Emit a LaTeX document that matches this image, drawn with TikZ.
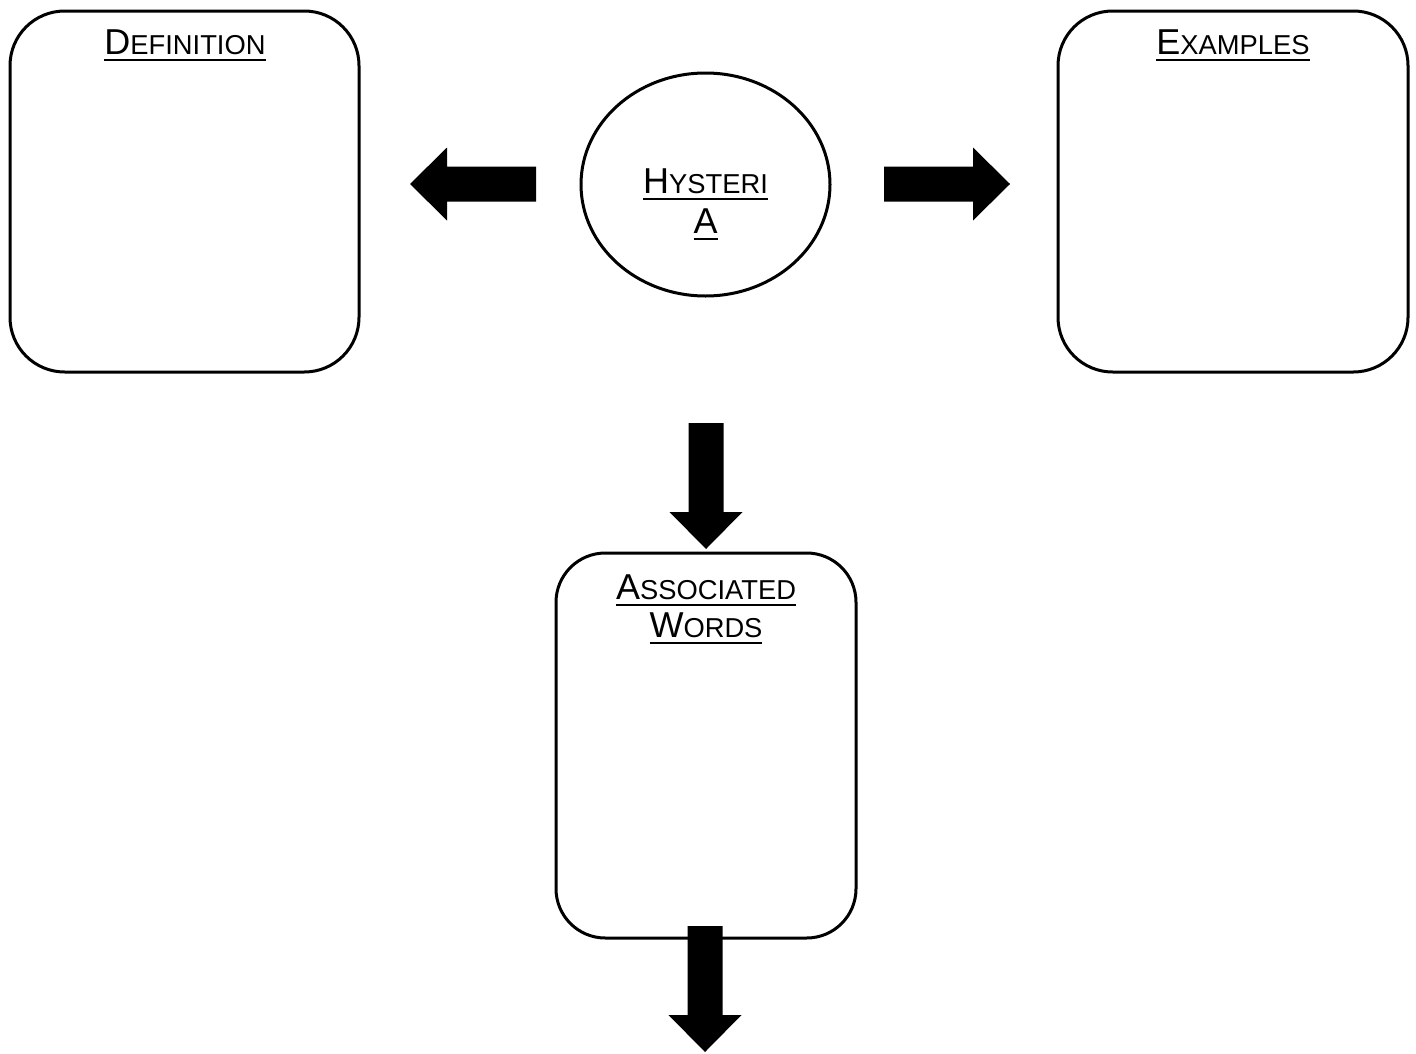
\documentclass[tikz,border=0pt]{standalone}
\usepackage{fontspec}
\setmainfont{Liberation Sans}
\usetikzlibrary{shapes.geometric, positioning}

% first letter big, rest small, whole word underlined
\newsavebox{\titlebox}
\newcommand{\bigsmall}[2]{\sbox{\titlebox}{#1{\fontsize{20.5}{24}\selectfont #2}}\rlap{\rule[-5pt]{\wd\titlebox}{1.5pt}}\usebox{\titlebox}}

\tikzset{
  panel/.style={draw, rounded corners=41pt, inner sep=0pt},
  title/.style={font=\fontsize{27}{28.5}\selectfont, align=center, anchor=north, inner sep=0pt},
  blockarrow/.pic={\fill (0,-17.5) -- (89,-17.5) -- (89,-36.5) -- (126,0) -- (89,36.5) -- (89,17.5) -- (0,17.5) -- cycle;}
}

\begin{document}
\begin{tikzpicture}[x=0.75pt, y=-0.75pt, line width=2.25pt]
				\useasboundingbox (0,0) rectangle (1416,1053);
				% definition
				\node[panel, minimum width=261.75pt, minimum height=270.75pt] (defbox) at (184.5,191.5) {};
				\node[title] (deftitle) at (185,28) {\bigsmall{D}{EFINITION}};
				% examples
				\node[panel, minimum width=262.5pt, minimum height=270.75pt] (exbox) at (1233,191.5) {};
				\node[title] (extitle) at (1233,28) {\bigsmall{E}{XAMPLES}};
				% centre word
				\node[draw, ellipse, minimum width=186.75pt, minimum height=167.25pt, inner sep=0pt] (hyst) at (705.5,184.5) {};
				\node[title, font=\fontsize{27}{30}\selectfont] (hysttitle) at (705.5,167) {\bigsmall{H}{YSTERI}\\\bigsmall{A}{}};
				% associated words
				\node[panel, rounded corners=37pt, minimum width=225pt, minimum height=288.75pt] (assocbox) at (706,745.5) {};
				\node[title] (assoctitle) at (706,573) {\bigsmall{A}{SSOCIATED}\\\bigsmall{W}{ORDS}};
				% block arrows
				\pic[rotate=180] at (536,184) {blockarrow};
				\pic at (884,184) {blockarrow};
				\pic[rotate=-90] at (706,423) {blockarrow};
				\pic[rotate=-90] at (705,926) {blockarrow};
			\end{tikzpicture}
\end{document}
